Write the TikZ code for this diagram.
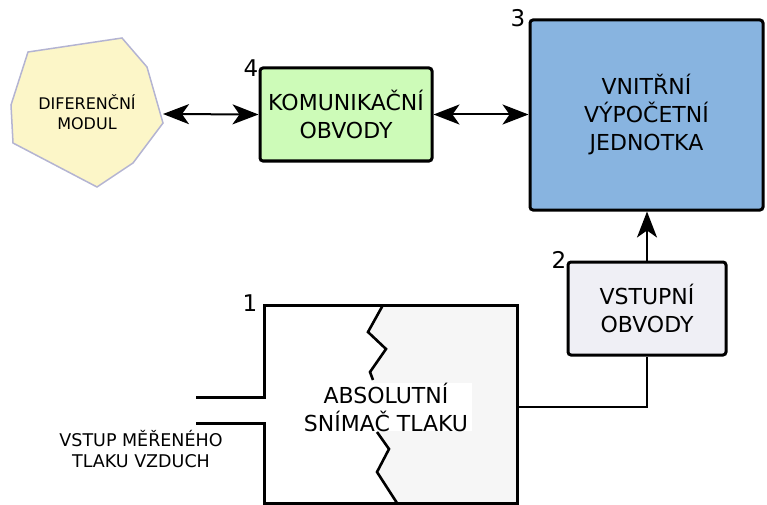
\documentclass[tikz,border=0pt]{standalone}
\usepackage{fontspec}
\setmainfont{DejaVu Sans}
\usetikzlibrary{arrows.meta}

\definecolor{modfill}{HTML}{FCF6C8}
\definecolor{moddraw}{HTML}{B4B4D2}
\definecolor{komfill}{HTML}{CDFBB8}
\definecolor{cpufill}{HTML}{88B4E0}
\definecolor{vstfill}{HTML}{EFEFF5}
\definecolor{snsfill}{HTML}{F6F6F6}

\tikzset{
  blockbox/.style={draw=black, line width=3pt, rounded corners=3pt,
    align=center, font=\fontsize{22}{28}\selectfont, inner sep=0pt},
  numlabel/.style={font=\fontsize{23}{26}\selectfont, inner sep=0pt},
  link/.style={line width=2pt, >={Stealth[length=26pt, width=20pt, inset=7pt]}},
  sensorline/.style={line width=3pt, line join=miter},
  zigzag/.style={line width=2.6pt, line join=miter}
}

\begin{document}
\begin{tikzpicture}[x=1pt, y=-1pt]
  \useasboundingbox (0,0) rectangle (767,505);

  % differential module (irregular polygon)
  \draw[fill=modfill, draw=moddraw, line width=1.5pt]
    (28,52) -- (122,38) -- (147,67) -- (163,123) -- (133,163) -- (97,187)
    -- (13,143) -- (11,105) -- cycle;
  \node[align=center, font=\fontsize{16}{20}\selectfont] (mod) at (87,112)
    {DIFERENČNÍ\\MODUL};
  \coordinate (modR) at (163,114);

  % block 4: communication circuits
  \node[blockbox, fill=komfill, minimum width=172pt, minimum height=93pt]
    (kom) at (346,114.5) {KOMUNIKAČNÍ\\OBVODY};
  \node[numlabel] (n4) at (251,68) {4};

  % block 3: internal computing unit
  \node[blockbox, fill=cpufill, minimum width=233pt, minimum height=190pt]
    (cpu) at (646.5,115) {VNITŘNÍ\\VÝPOČETNÍ\\JEDNOTKA};
  \node[numlabel] (n3) at (518,18) {3};

  % block 2: input circuits
  \node[blockbox, fill=vstfill, minimum width=158pt, minimum height=93pt]
    (vst) at (647,308.5) {VSTUPNÍ\\OBVODY};
  \node[numlabel] (n2) at (559,260) {2};

  % block 1: absolute pressure sensor (cut-away)
  \fill[snsfill] (383,305) -- (517,305) -- (517,503) -- (397,503) -- (377,472)
    -- (389,449) -- (377,432) -- (373,380) -- (370,372) -- (386,349)
    -- (368,332) -- cycle;
  \draw[zigzag] (383,305) -- (368,332) -- (386,349) -- (370,372) -- (373,380);
  \draw[zigzag] (377,432) -- (389,449) -- (377,472) -- (397,503);
  \draw[sensorline] (196,397) -- (264,397) -- (264,305) -- (517,305)
    -- (517,503) -- (264,503) -- (264,423) -- (196,423);
  \node[fill=white, align=center, font=\fontsize{22}{28}\selectfont,
    minimum width=172pt, minimum height=48pt, inner sep=0pt]
    (sns) at (386,407) {ABSOLUTNÍ\\SNÍMAČ TLAKU};
  \node[numlabel] (n1) at (250,303) {1};
  \coordinate (snsR) at (517,407);

  % measured air pressure inlet
  \node[align=center, font=\fontsize{17.5}{21}\selectfont] (inlet) at (141,449)
    {VSTUP MĚŘENÉHO\\TLAKU VZDUCH};

  % connectors
  \draw[link, <->] (modR) -- (kom.west);
  \draw[link, <->] (kom.east) -- (cpu.west |- kom.east);
  \draw[link, ->] (vst.north) -- (cpu.south -| vst.north);
  \draw[link, line width=2.4pt] (vst.south) |- (snsR);
\end{tikzpicture}
\end{document}
